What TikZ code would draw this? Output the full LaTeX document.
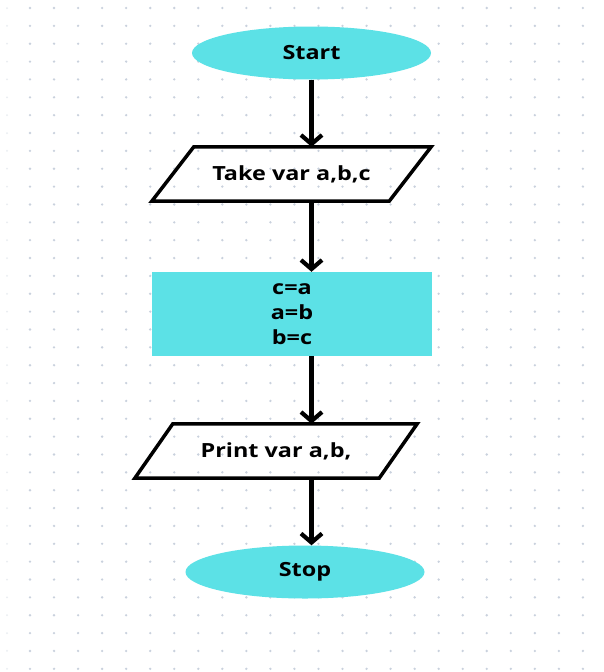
\documentclass[tikz,border=0pt]{standalone}
\usepackage{fontspec}
\setmainfont{Open Sans}[FakeStretch=1.2]
\usepackage{tikz}
\usetikzlibrary{shapes.geometric,arrows.meta}

\definecolor{boxcyan}{HTML}{5CE1E6}
\definecolor{dotgray}{HTML}{C9D1DD}

\begin{document}
\begin{tikzpicture}[x=1pt,y=-1pt,
    terminal/.style={ellipse, fill=boxcyan, minimum width=239pt, minimum height=53pt,
        inner sep=0pt, font=\bfseries\fontsize{19.5}{22}\selectfont},
    io/.style={rectangle, minimum height=54pt, inner sep=0pt,
        font=\bfseries\fontsize{19.5}{22}\selectfont},
    ioline/.style={draw, line width=3.5pt},
    process/.style={rectangle, fill=boxcyan, minimum width=280pt, minimum height=84pt,
        inner sep=0pt, align=center, font=\bfseries\fontsize{19.5}{25}\selectfont},
    flow/.style={-{Straight Barb[length=9pt,width=21pt]}, line width=4.2pt}]
    \fill[white] (0,0) rectangle (603,672);
    \useasboundingbox (0,0) rectangle (603,672);
    % dotted page
    \foreach \i in {0,...,23}
        \foreach \j in {0,...,37}
            \fill[dotgray] ({30+24.04*\i},{8+17.86*\j}) circle (1.3pt);
    \foreach \j in {0,...,37}
        \fill[dotgray!40] (7,{8+17.86*\j}) circle (1pt);

    \node[terminal] (start) at (311.5,53) {Start};
    \node[io, minimum width=237pt] (take) at (291.5,174) {Take var a,b,c};
    \node[process] (swap) at (292,314) {c=a\\a=b\\b=c};
    \node[io, minimum width=244pt] (print) at (276,451) {Print var a,b,};
    \node[terminal] (stop) at (305,572) {Stop};

    % slanted input/output boxes
    \draw[ioline] ([xshift=21pt]take.north west) -- ([xshift=21pt]take.north east)
        -- ([xshift=-21pt]take.south east) -- ([xshift=-21pt]take.south west) -- cycle;
    \draw[ioline] ([xshift=19pt]print.north west) -- ([xshift=19pt]print.north east)
        -- ([xshift=-19pt]print.south east) -- ([xshift=-19pt]print.south west) -- cycle;

    \draw[flow] (start) -- (start |- take.north);
    \draw[flow] (take.south -| start) -- (start |- swap.north);
    \draw[flow] (swap.south -| start) -- (start |- print.north);
    \draw[flow] (print.south -| start) -- (start |- stop.north);
\end{tikzpicture}
\end{document}
